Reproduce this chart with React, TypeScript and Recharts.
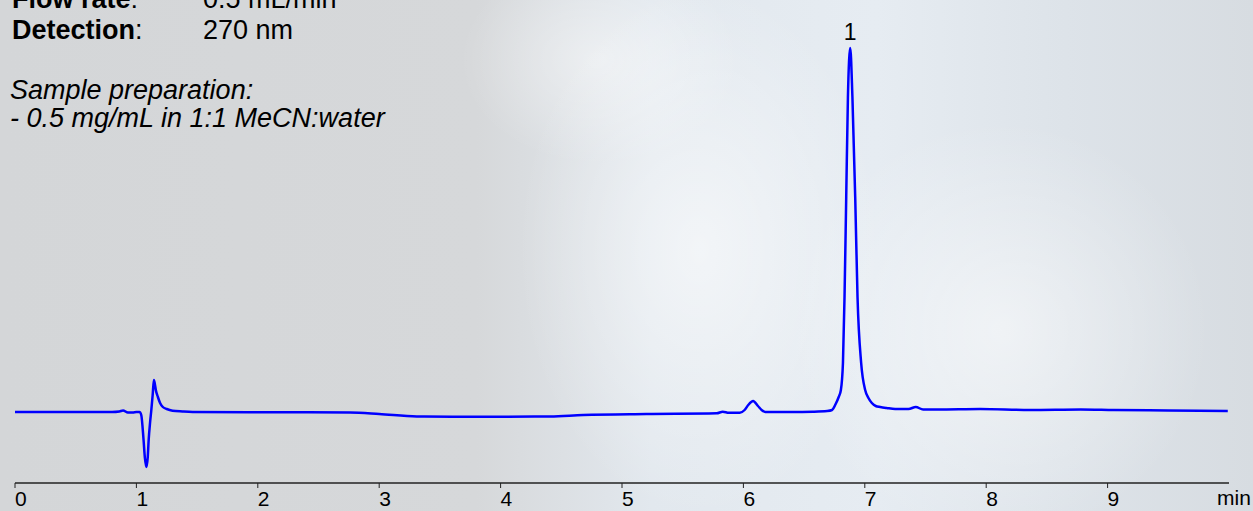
import React from "react";
import {
  LineChart,
  Line,
  XAxis,
  YAxis,
  ReferenceDot
} from "recharts";

// retention time (min) and detector signal (arbitrary units, baseline = 0)
const times = [
  0.0, 0.5, 0.8, 0.86, 0.89, 0.93, 0.97, 1.0, 1.026, 1.04, 1.059, 1.07, 1.082, 1.093,
  1.101, 1.113, 1.123, 1.134, 1.144, 1.152, 1.16, 1.177, 1.195, 1.218, 1.25, 1.298,
  1.38, 1.463, 1.93, 2.4, 2.76, 3.0, 3.31, 3.6, 4.0, 4.41, 4.68, 5.2, 5.78, 5.83, 5.88,
  5.97, 6.01, 6.04, 6.08, 6.12, 6.15, 6.18, 6.4, 6.57, 6.69, 6.73, 6.76, 6.785, 6.803,
  6.82, 6.833, 6.847, 6.861, 6.88, 6.898, 6.921, 6.94, 6.97, 7.003, 7.03, 7.058, 7.09,
  7.127, 7.18, 7.25, 7.36, 7.42, 7.48, 7.6, 7.95, 8.36, 8.78, 9.05, 9.5, 9.99
];
const signal = [
  0, 0, 0, 0.5, 1.5, -0.5, -0.5, 0, 0, -3, -28, -46, -55, -46,
  -28, -10, 2, 17, 32, 28, 22, 15, 9, 5, 3, 1.3,
  0.5, 0, -0.3, -0.3, -0.5, -2, -4.5, -4.7, -4.7, -4.5, -3, -2, -1.3, 0.3, -0.8,
  -0.7, 2, 7, 11, 6, 2, 0, 0, 0.3, 1, 2, 8, 15, 22,
  49, 115, 215, 315, 364, 315, 215, 115, 49, 22, 14, 9, 6,
  5, 4, 3, 3, 5, 2.5, 2.5, 3, 2, 2.5, 2, 1.5, 1
];
const xTicks = [0, 1, 2, 3, 4, 5, 6, 7, 8, 9];
const peaks = [{ name: "1", time: 6.88, height: 364 }];
const methodRows = [
  { key: "Flow rate", value: "0.5 mL/min" },
  { key: "Detection", value: "270 nm" }
];
const sampleLines = ["Sample preparation:", "- 0.5 mg/mL in 1:1 MeCN:water"];

const data = times.map((t, i) => ({ t, v: signal[i] }));

const font = '"Liberation Sans", Arial, sans-serif';

const TimeTick = (props: any) => {
  const { x, y, payload } = props;
  return (
    <text x={x} y={y} dy={16} textAnchor="start" fill="#000" fontSize={21} fontFamily={font}>
      {payload.value}
    </text>
  );
};

export default function App() {
  return (
    <div
      style={{
        position: "absolute",
        left: 0,
        top: 0,
        width: 1253,
        height: 511,
        overflow: "hidden",
        fontFamily: font,
        background:
          "radial-gradient(ellipse 260px 380px at 700px 250px, rgba(255,255,255,0.55), rgba(255,255,255,0) 70%)," +
          "radial-gradient(ellipse 300px 300px at 1000px 330px, rgba(255,255,255,0.5), rgba(255,255,255,0) 70%)," +
          "radial-gradient(ellipse 200px 150px at 600px 60px, rgba(255,255,255,0.45), rgba(255,255,255,0) 70%)," +
          "linear-gradient(to right, #d4d6d8 0%, #d6d8da 38%, #e2e8ee 52%, #e6ecf2 70%, #dde3e9 85%, #d7dce1 100%)"
      }}
    >
      <div style={{ position: "absolute", left: 12, top: -16, fontSize: 27, lineHeight: "31px", color: "#000" }}>
        {methodRows.map((r) => (
          <div key={r.key} style={{ position: "relative", whiteSpace: "nowrap", height: 31 }}>
            <b>{r.key}</b>:
            <span style={{ position: "absolute", left: 191, top: 0 }}>{r.value}</span>
          </div>
        ))}
      </div>
      <div
        style={{
          position: "absolute",
          left: 10,
          top: 76,
          fontSize: 27,
          lineHeight: "28px",
          fontStyle: "italic",
          color: "#000",
          whiteSpace: "nowrap"
        }}
      >
        {sampleLines.map((l) => (
          <div key={l}>{l}</div>
        ))}
      </div>

      <LineChart width={1253} height={511} data={data} margin={{ top: 20, right: 24, bottom: 0, left: 15 }}>
        <XAxis
          dataKey="t"
          type="number"
          domain={[0, 10]}
          ticks={xTicks}
          height={28}
          axisLine={{ stroke: "#222", strokeWidth: 1.5 }}
          tickLine={{ stroke: "#222" }}
          tickSize={5}
          tick={<TimeTick />}
          interval={0}
        />
        <YAxis hide domain={[-71, 392]} />
        <Line
          type="monotone"
          dataKey="v"
          stroke="#0000ff"
          strokeWidth={2.5}
          dot={false}
          isAnimationActive={false}
        />
        {peaks.map((p) => (
          <ReferenceDot
            key={p.name}
            x={p.time}
            y={p.height}
            r={0}
            stroke="none"
            label={{ value: p.name, position: "top", offset: 8, fontSize: 23, fill: "#000", fontFamily: font }}
          />
        ))}
      </LineChart>

      <div style={{ position: "absolute", left: 1217, top: 486, fontSize: 21, color: "#000" }}>min</div>
    </div>
  );
}
